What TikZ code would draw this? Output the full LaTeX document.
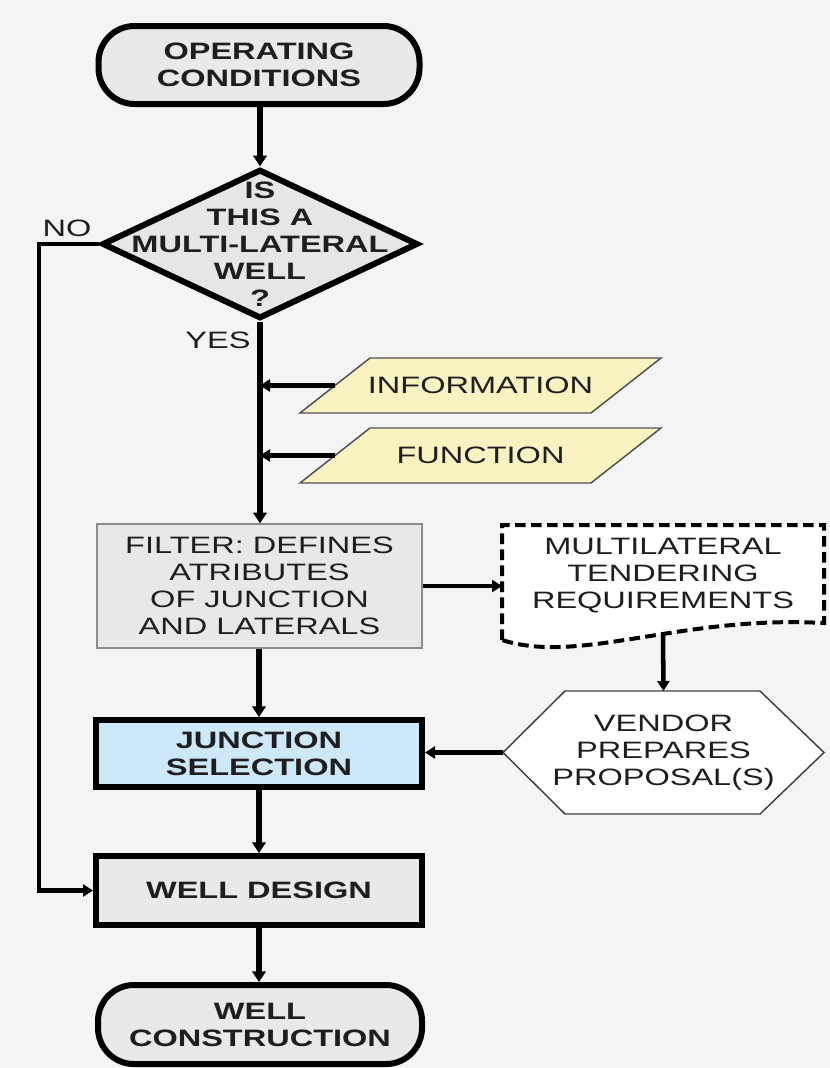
\documentclass[tikz,border=0pt]{standalone}
\usepackage{fontspec}
\setmainfont{Liberation Sans}[FakeStretch=1.37]
\usetikzlibrary{arrows.meta,shapes.geometric}
\pgfdeclarelayer{back}
\pgfdeclarelayer{bg}
\pgfsetlayers{back,bg,main}
\definecolor{bgc}{HTML}{F4F4F4}
\definecolor{termc}{HTML}{E9E9E9}
\definecolor{diac}{HTML}{E6E6E6}
\definecolor{juncc}{HTML}{CCE8F9}
\definecolor{filtc}{HTML}{E8E8E8}
\definecolor{filtb}{HTML}{8C8C8C}
\definecolor{parac}{HTML}{F8F3C1}
\definecolor{parab}{HTML}{505050}
\definecolor{hexb}{HTML}{404040}
\definecolor{txtc}{HTML}{1E1E1E}
\begin{document}
\begin{tikzpicture}[x=0.75pt,y=-0.75pt,
  basetxt/.style={font=\fontsize{17.8}{20.3}\selectfont, align=center, text=txtc, inner sep=0pt},
  boldtxt/.style={basetxt, font=\fontsize{17.8}{20.3}\selectfont\bfseries},
  term/.style={boldtxt, draw=black, line width=4.5pt, rounded corners=27pt, fill=termc},
  dia/.style={diamond, draw=black, line width=4.5pt, fill=diac, inner sep=0pt},
  thickbox/.style={boldtxt, draw=black, line width=4.5pt},
  filtbox/.style={basetxt, draw=filtb, line width=1.1pt, fill=filtc},
  ghost/.style={basetxt, outer sep=0pt},
  para/.style={draw=parab, line width=1.1pt, fill=parac},
  hexa/.style={draw=hexb, line width=1.1pt, fill=white},
  docshape/.style={draw=black, line width=3pt, dash pattern=on 8pt off 4pt, fill=white},
  conn/.style={line width=4.5pt, -{Triangle[length=8pt,width=10pt]}},
  sconn/.style={line width=3.4pt, -{Triangle[length=7.5pt,width=9pt]}}
]
\begin{pgfonlayer}{back}
  \fill[bgc] (0,0) rectangle (830,1068);
\end{pgfonlayer}
\useasboundingbox (0,0) rectangle (830,1068);

% main column
\node[term, minimum width=240.75pt, minimum height=58.5pt] (start) at (259,65) {OPERATING\\CONDITIONS};
\node[dia, minimum width=237pt, minimum height=112pt] (q) at (260,244) {};
\node[boldtxt] (qt) at (q) {IS\\THIS A\\MULTI-LATERAL\\WELL\\?};
\node[basetxt] (no) at (67,228) {NO};
\node[basetxt] (yes) at (218,340) {YES};

\node[ghost, minimum width=218.25pt, minimum height=41.25pt] (info) at (480.5,385.5) {INFORMATION};
\node[ghost, minimum width=218.25pt, minimum height=41.25pt] (func) at (480.5,455.5) {FUNCTION};

\node[filtbox, minimum width=243.75pt, minimum height=93pt] (filt) at (259.5,586) {FILTER: DEFINES\\ATRIBUTES\\OF JUNCTION\\AND LATERALS};

\node[ghost, minimum width=241.5pt, minimum height=76.5pt] (doc) at (663,576) {MULTILATERAL\\TENDERING\\REQUIREMENTS};
\coordinate (docb) at (663,635);

\node[ghost, minimum width=240.75pt, minimum height=92.25pt] (vend) at (663.5,752.5) {VENDOR\\PREPARES\\PROPOSAL(S)};

\node[thickbox, fill=juncc, minimum width=244.5pt, minimum height=50.25pt] (junc) at (259,753.5) {JUNCTION\\SELECTION};
\node[thickbox, fill=termc, minimum width=244.5pt, minimum height=51.75pt] (wd) at (259,890.5) {WELL DESIGN};
\node[term, minimum width=243pt, minimum height=59.25pt] (wc) at (260,1024.5) {WELL\\CONSTRUCTION};

% custom shapes behind text
\begin{pgfonlayer}{bg}
  \draw[para] ([xshift=26.25pt]info.north west) -- ([xshift=26.25pt]info.north east)
     -- ([xshift=-26.25pt]info.south east) -- ([xshift=-26.25pt]info.south west) -- cycle;
  \draw[para] ([xshift=26.25pt]func.north west) -- ([xshift=26.25pt]func.north east)
     -- ([xshift=-26.25pt]func.south east) -- ([xshift=-26.25pt]func.south west) -- cycle;
  \draw[hexa] (vend.west) -- ([xshift=46.5pt]vend.north west) -- ([xshift=-48pt]vend.north east)
     -- (vend.east) -- ([xshift=-48pt]vend.south east) -- ([xshift=46.5pt]vend.south west) -- cycle;
  \draw[docshape] ([yshift=-9.75pt]doc.south west) -- (doc.north west) -- (doc.north east)
     -- ([yshift=3pt]doc.south east) .. controls (680,615) and (580,665) .. ([yshift=-9.75pt]doc.south west) -- cycle;
\end{pgfonlayer}

% connectors
\draw[conn] (start.south -| q.north) -- (q.north);
\draw[conn] (q.south) -- (q.south |- filt.north);
\draw[sconn] (info.west) -- (info.west -| q.south);
\draw[sconn] (func.west) -- (func.west -| q.south);
\draw[sconn] (filt.east) -- (filt.east -| doc.west);
\draw[sconn] (docb) -- (vend.north);
\draw[sconn] (vend.west) -- (vend.west -| junc.east);
\draw[conn] (junc.north |- filt.south) -- (junc.north);
\draw[conn] (junc.south) -- (wd.north);
\draw[conn] (wd.south) -- (wd.south |- wc.north);
\draw[sconn] (q.west) -- ++(-60,0) |- (wd.west);
\end{tikzpicture}
\end{document}
